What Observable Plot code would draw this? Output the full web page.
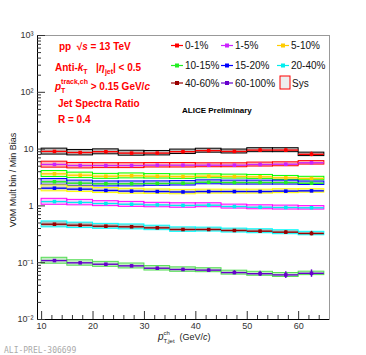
<!DOCTYPE html>
<html><head><meta charset="utf-8">
<script src="https://cdn.jsdelivr.net/npm/d3@7"></script>
<script src="https://cdn.jsdelivr.net/npm/@observablehq/plot@0.6"></script>
<style>body{margin:0;background:#fff}</style>
</head><body><div id="chart"></div>
<script>
// bins (GeV/c)
const binLo = [10,15,20,25,30,35,40,45,50,55,60];
const binHi = [15,20,25,30,35,40,45,50,55,60,65];
// series values (ratio V0M mult bin / min bias)
const classes = ["0-1%","1-5%","5-10%","10-15%","15-20%","20-40%","40-60%","60-100%"];
const v0_1   = [9.1, 8.7, 9.0, 8.5, 8.5, 9.0, 9.4, 9.1, 9.6, 9.6, 8.1];
const v1_5   = [5.36, 5.14, 5.14, 5.14, 5.21, 5.21, 5.21, 5.21, 5.36, 5.42, 5.74];
const v5_10  = [3.67, 3.47, 3.33, 3.39, 3.33, 3.29, 3.33, 3.29, 3.25, 3.12, 3.04];
const v10_15 = [2.66, 2.51, 2.45, 2.45, 2.48, 2.51, 2.61, 2.58, 2.58, 2.58, 2.51];
const v15_20 = [2.05, 1.97, 1.87, 1.82, 1.79, 1.76, 1.79, 1.79, 1.79, 1.82, 1.84];
const v20_40 = [1.19, 1.15, 1.10, 1.07, 1.04, 1.02, 1.03, 0.975, 0.948, 0.937, 0.926];
const v40_60 = [0.476, 0.457, 0.439, 0.429, 0.411, 0.384, 0.384, 0.369, 0.359, 0.345, 0.327];
const v60_100= [0.109, 0.0995, 0.094, 0.088, 0.080, 0.076, 0.074, 0.067, 0.064, 0.061, 0.065];
// relative statistical errors
const s0_1   = [0.01,0.01,0.01,0.015,0.02,0.025,0.035,0.04,0.06,0.06,0.09];
const s1_5   = [0.01,0.01,0.01,0.01,0.01,0.015,0.015,0.02,0.025,0.03,0.035];
const s5_10  = [0.01,0.01,0.01,0.01,0.01,0.01,0.015,0.015,0.02,0.025,0.03];
const s10_15 = [0.01,0.01,0.01,0.01,0.01,0.01,0.015,0.015,0.02,0.025,0.03];
const s15_20 = [0.01,0.01,0.01,0.01,0.01,0.01,0.015,0.015,0.02,0.025,0.035];
const s20_40 = [0.01,0.01,0.01,0.01,0.01,0.01,0.015,0.015,0.02,0.025,0.03];
const s40_60 = [0.01,0.01,0.015,0.015,0.02,0.02,0.025,0.03,0.05,0.06,0.09];
const s60_100= [0.02,0.02,0.025,0.03,0.04,0.05,0.05,0.08,0.11,0.14,0.15];
// relative systematic uncertainties
const sysRel = [0.12,0.11,0.10,0.10,0.09,0.09,0.08,0.08,0.08,0.08,0.07];
// styles
const pointColor = ["#ff0000","#cc22ff","#ffcc00","#22ee22","#0000ff","#00eeee","#990000","#6600cc"];
const boxStroke  = ["#000000","#ff0000","#00ff00","#0000ff","#ffff00","#ff00ff","#00ffff","#55dd55"];
const boxFill    = ["#777777","#ff7777","#ffee66","#8888cc","#bbbb77","#ff99ff","#558888","#88dd88"];
// axis ticks
const yMajor = [0.01,0.1,1,10,100,1000];
const yLabels = ["10\u207B\u00B2","10\u207B\u00B9","1","10","10\u00B2","10\u00B3"];
const xMajor = [10,20,30,40,50,60];
const xMinor = [12,14,16,18,22,24,26,28,32,34,36,38,42,44,46,48,52,54,56,58,62,64];
const xDomain = [9.2, 66];
const yDomain = [0.01, 1000];

const values = [v0_1,v1_5,v5_10,v10_15,v15_20,v20_40,v40_60,v60_100];
const stats = [s0_1,s1_5,s5_10,s10_15,s15_20,s20_40,s40_60,s60_100];
const rows = [];
values.forEach((vs, k) => vs.forEach((v, i) => rows.push({
  k, lo: binLo[i], hi: binHi[i], c: (binLo[i]+binHi[i])/2, v,
  e1: v*(1-stats[k][i]), e2: v*(1+stats[k][i]),
  s1: v*(1-sysRel[i]), s2: v*(1+sysRel[i]),
  pc: pointColor[k], bs: boxStroke[k], bf: boxFill[k]
})));
const yMinor = [];
for (const d of [0.01,0.1,1,10,100]) for (let m=2;m<=9;m++) yMinor.push(+(d*m).toPrecision(3));

const chart = Plot.plot({
  width: 366, height: 355,
  marginLeft: 37, marginRight: 37, marginTop: 35, marginBottom: 36,
  x: {domain: xDomain, axis: null},
  y: {type: "log", domain: yDomain, axis: null},
  color: {type: "identity"},
  style: {fontFamily: "'Liberation Sans', Arial, sans-serif", fontSize: "9px", background: "#fff", color: "#222"},
  marks: [
    Plot.frame({stroke: "#999"}),
    Plot.rect(rows, {x1: "lo", x2: "hi", y1: "s1", y2: "s2", fill: "bf", fillOpacity: 0.5, stroke: "bs", strokeWidth: 1}),
    Plot.ruleY(rows, {y: "v", x1: "lo", x2: "hi", stroke: "pc", strokeWidth: 1.4}),
    Plot.ruleX(rows, {x: "c", y1: "e1", y2: "e2", stroke: "pc", strokeWidth: 1.4}),
    Plot.dot(rows, {x: "c", y: "v", fill: "pc", symbol: "square", r: 2}),
    Plot.ruleX([xDomain[0]], {stroke: "#000"}),
    Plot.ruleY([yDomain[0]], {stroke: "#000"}),
    Plot.axisY({ticks: yMajor, tickSize: -8, tickFormat: () => "", stroke: "#333"}),
    Plot.axisY({ticks: yMinor, tickSize: -4, tickFormat: () => "", stroke: "#333"}),
    Plot.axisY({ticks: yMajor, tickSize: 0, tickPadding: 4, tickFormat: (d) => yLabels[yMajor.indexOf(d)], fill: "#333", fontSize: 9}),
    Plot.axisX({ticks: xMajor, tickSize: -8, tickFormat: () => "", stroke: "#333"}),
    Plot.axisX({ticks: xMinor, tickSize: -4, tickFormat: () => "", stroke: "#333"}),
    Plot.axisX({ticks: xMajor, tickSize: 0, tickPadding: 3, tickFormat: d => String(d), fill: "#333", fontSize: 9})
  ]
});
document.getElementById("chart").appendChild(chart);

const svg = d3.select(chart);
const g = svg.append("g").attr("text-anchor", "start");
const FONT = "'Liberation Sans', Arial, sans-serif";
// rich text helper: parts {t, fs, dy, it, stack}
function rich(x, y, parts, opt) {
  let cx = x, stackX = null, stackW = 0;
  for (const p of parts) {
    let px = cx;
    if (p.stack) px = stackX;
    const t = g.append("text").attr("x", px).attr("y", y + (p.dy || 0))
      .attr("text-anchor", "start")
      .attr("font-family", FONT).attr("font-size", p.fs || opt.fs)
      .attr("font-weight", opt.bold ? "bold" : "normal")
      .attr("font-style", p.it ? "italic" : "normal")
      .attr("fill", opt.fill).style("white-space","pre").text(p.t);
    const w = t.node().getComputedTextLength();
    if (p.stack) { cx = stackX + Math.max(stackW, w); }
    else { stackX = px; stackW = w; cx = px + w; }
  }
}
const red = "#ff0000";
rich(59, 50, [{t: "pp  "}, {t: "\u221A"}, {t: "s", it: true}, {t: " = 13 TeV"}], {fs: 10, bold: true, fill: red});
rich(55, 71, [{t: "Anti-"}, {t: "k", it: true}, {t: "T", fs: 7, dy: 3}, {t: "   |"}, {t: "\u03B7", it: true}, {t: "jet", fs: 7, dy: 3}, {t: "| < 0.5"}], {fs: 10, bold: true, fill: red});
rich(55, 90, [{t: "p", it: true}, {t: "T", fs: 7, dy: 3}, {t: "track,ch", fs: 7, dy: -6, stack: true}, {t: " > 0.15 GeV/"}, {t: "c", it: true}], {fs: 10, bold: true, fill: red});
rich(58, 106.5, [{t: "Jet Spectra Ratio"}], {fs: 10, bold: true, fill: red});
rich(58, 122.5, [{t: "R = 0.4"}], {fs: 10, bold: true, fill: red});
rich(182, 113, [{t: "ALICE Preliminary"}], {fs: 8, bold: true, fill: "#000"});

// legend
const legCols = [185, 235, 291];
const legRows = [49, 69, 86.5];
classes.forEach((name, k) => {
  const cx = legCols[k % 3], cy = legRows[Math.floor(k / 3)];
  const mx = cx - 8;
  g.append("line").attr("x1", mx - 6).attr("x2", mx + 6).attr("y1", cy - 3.5).attr("y2", cy - 3.5).attr("stroke", pointColor[k]).attr("stroke-width", 1.2);
  g.append("rect").attr("x", mx - 2).attr("y", cy - 5.5).attr("width", 4).attr("height", 4).attr("fill", pointColor[k]);
  rich(cx, cy, [{t: name}], {fs: 10, fill: "#111"});
});
g.append("rect").attr("x", 280).attr("y", 76).attr("width", 10).attr("height", 13).attr("fill", "#eee").attr("stroke", "#ff0000");
rich(292, 86.5, [{t: "Sys"}], {fs: 10, fill: "#111"});

// axis titles
g.append("text").attr("transform", "translate(16,180) rotate(-90)").attr("text-anchor", "middle")
  .attr("font-family", FONT).attr("font-size", 9).attr("fill", "#222").text("V0M Mult bin / Min Bias");
rich(158, 340, [{t: "p", it: true, fs: 10}, {t: "T,jet", fs: 6, dy: 3}, {t: "ch", fs: 6, dy: -5, stack: true}, {t: "  (GeV/"}, {t: "c", it: true}, {t: ")"}], {fs: 9, fill: "#222"});
g.append("text").attr("x", 4).attr("y", 353).attr("text-anchor", "start").attr("font-family", "'DejaVu Sans Mono', monospace").attr("font-size", 8).attr("fill", "#aaa").text("ALI-PREL-306699");
</script></body></html>
